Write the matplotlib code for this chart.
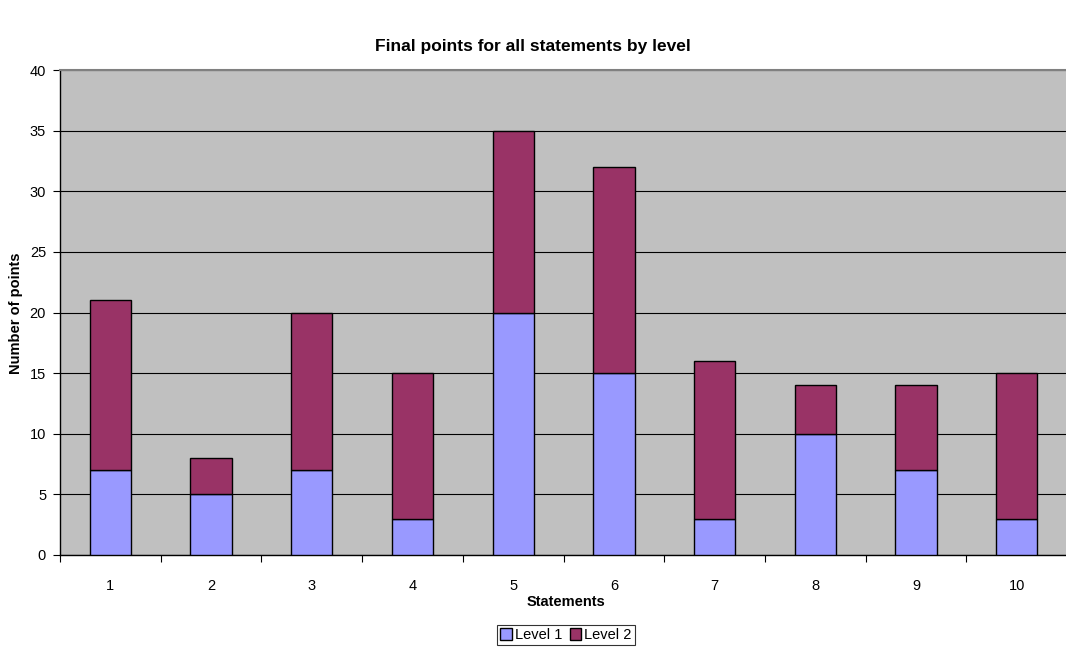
import matplotlib
matplotlib.use("Agg")
import matplotlib.pyplot as plt
from matplotlib.patches import Patch
import numpy as np

plt.rcParams['font.family'] = ['Liberation Sans', 'DejaVu Sans']

statements = ["1", "2", "3", "4", "5", "6", "7", "8", "9", "10"]
level1 = [7, 5, 7, 3, 20, 15, 3, 10, 7, 3]
level2 = [14, 3, 13, 12, 15, 17, 13, 4, 7, 12]
y_ticks = [0, 5, 10, 15, 20, 25, 30, 35, 40]

c_level1 = "#9999FF"
c_level2 = "#993366"
c_bg = "#C0C0C0"
fs = 10.5

fig = plt.figure(figsize=(10.66, 6.51), dpi=100)
ax = fig.add_axes([60 / 1066, 1 - 555 / 651, 1 - 60 / 1066 + 0.001, 485 / 651])
ax.set_facecolor(c_bg)

x = np.arange(len(statements))
w = 0.41
ax.bar(x, level1, width=w, color=c_level1, edgecolor="black", linewidth=1, zorder=3)
ax.bar(x, level2, width=w, bottom=level1, color=c_level2, edgecolor="black",
       linewidth=1, zorder=3)

ax.set_xlim(-0.5, len(statements) - 0.5)
ax.set_ylim(0, 40)
ax.set_yticks(y_ticks)
ax.yaxis.grid(True, color="black", linewidth=0.8, zorder=1)
ax.set_axisbelow(True)

ax.set_xticks(x)
ax.set_xticklabels(statements)
ax.set_xticks(np.arange(-0.5, len(statements)), minor=True)
ax.tick_params(axis="x", which="major", length=0, pad=17, labelsize=fs)
ax.tick_params(axis="x", which="minor", length=5, width=0.8, direction="out")
ax.tick_params(axis="y", length=5, width=0.8, pad=5, labelsize=fs)

for side in ("left", "bottom"):
    ax.spines[side].set_color("black")
    ax.spines[side].set_linewidth(1)
ax.spines["top"].set_color("#808080")
ax.spines["top"].set_linewidth(1.5)
ax.spines["right"].set_visible(False)

fig.text(533 / 1066, 1 - 47 / 651, "Final points for all statements by level",
         ha="center", va="center", fontsize=12.5, fontweight="bold")
fig.text(566 / 1066, 1 - 602 / 651, "Statements", ha="center", va="center",
         fontsize=fs, fontweight="bold")
fig.text(16 / 1066, 1 - 313 / 651, "Number of points", ha="center", va="center",
         rotation=90, fontsize=fs, fontweight="bold")

handles = [Patch(facecolor=c_level1, edgecolor="black", label="Level 1"),
           Patch(facecolor=c_level2, edgecolor="black", label="Level 2")]
leg = fig.legend(handles=handles, loc="center", bbox_to_anchor=(566 / 1066, 1 - 635 / 651),
                 ncol=2, frameon=True, fancybox=False, fontsize=fs,
                 handlelength=0.8, handleheight=0.8, handletextpad=0.2,
                 columnspacing=0.5, borderpad=0.2, borderaxespad=0)
leg.get_frame().set_edgecolor("black")
leg.get_frame().set_linewidth(0.8)

fig.savefig("out.png", dpi=100)
